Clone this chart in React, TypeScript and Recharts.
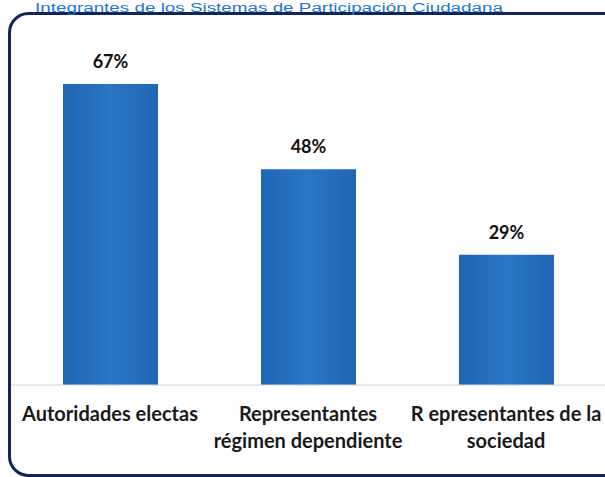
import React from "react";
import { Bar, BarChart, LabelList, XAxis, YAxis } from "recharts";

const TITLE = "Integrantes de los Sistemas de Participación Ciudadana";
const CATEGORIES = [
  "Autoridades electas",
  "Representantes\nrégimen dependiente",
  "R epresentantes de la\nsociedad",
];
const VALUES = [67, 48, 29];

const FONT = "Lato, 'Open Sans', sans-serif";

const data = CATEGORIES.map((c, i) => ({ name: c, value: VALUES[i] }));

function CategoryTick(props: any) {
  const { x, y, payload } = props;
  const lines = String(payload.value).split("\n");
  return (
    <text x={x} y={y} textAnchor="middle" fill="#1a1a1a" fontFamily={FONT} fontWeight={700} fontSize={20}>
      {lines.map((line, i) => (
        <tspan key={i} x={x} dy={i === 0 ? 28 : 27}>
          {line}
        </tspan>
      ))}
    </text>
  );
}

export default function App() {
  return (
    <div style={{ position: "absolute", left: 0, top: 0, width: 605, height: 477, overflow: "hidden", background: "#fff" }}>
      <svg width={605} height={477} style={{ position: "absolute", left: 0, top: 0 }}>
        <rect x={9.5} y={13.5} width={620} height={462} rx={19} fill="none" stroke="#12245a" strokeWidth={3} />
        <text
          x={269}
          y={11.5}
          textAnchor="middle"
          fontFamily="'Liberation Sans', Arial, sans-serif"
          fontSize={12.5}
          textLength={468}
          lengthAdjust="spacingAndGlyphs"
          fill="#1d78d2"
        >
          {TITLE}
        </text>
      </svg>
      <div style={{ position: "absolute", left: 0, top: 0 }}>
        <BarChart width={605} height={477} data={data} margin={{ top: 84, right: 0, bottom: 62, left: 11 }}>
          <defs>
            <linearGradient id="barFill" x1="0" y1="0" x2="1" y2="0">
              <stop offset="0%" stopColor="#1f66b5" />
              <stop offset="50%" stopColor="#2a75c5" />
              <stop offset="100%" stopColor="#1f66b5" />
            </linearGradient>
          </defs>
          <XAxis
            dataKey="name"
            height={30}
            tickLine={false}
            axisLine={{ stroke: "#d4d4d4" }}
            interval={0}
            tick={<CategoryTick />}
          />
          <YAxis hide domain={[0, 67]} />
          <Bar dataKey="value" fill="url(#barFill)" barSize={95} isAnimationActive={false}>
            <LabelList
              dataKey="value"
              position="top"
              offset={16}
              formatter={(v: any) => `${v}%`}
              style={{ fontFamily: FONT, fontWeight: 700, fontSize: 18, fill: "#111" }}
            />
          </Bar>
        </BarChart>
      </div>
    </div>
  );
}
